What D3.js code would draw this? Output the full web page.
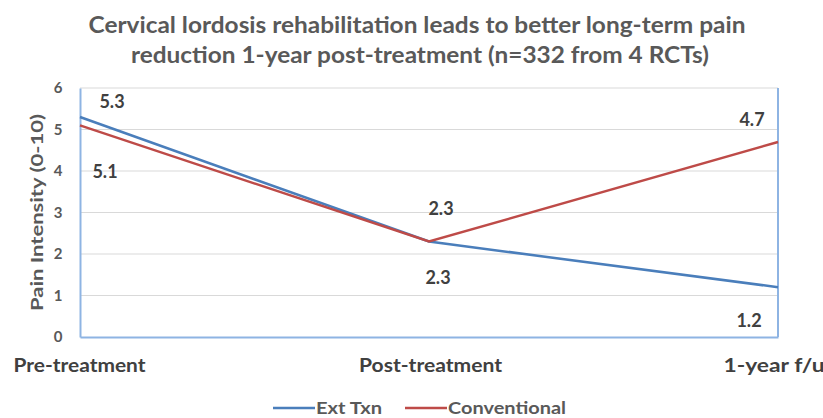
<!DOCTYPE html>
<html><head><meta charset="utf-8">
<script src="https://cdn.jsdelivr.net/npm/d3@7"></script>
<style>body{margin:0;background:#fff}svg{display:block}text{font-family:Lato,"Open Sans",sans-serif}</style>
</head><body><svg id="c" width="823" height="418"></svg>
<script>
const categories = ["Pre-treatment", "Post-treatment", "1-year f/u"];
const extTxn = [5.3, 2.3, 1.2];
const conventional = [5.1, 2.3, 4.7];
const seriesNames = ["Ext Txn", "Conventional"];
const yTicks = [0, 1, 2, 3, 4, 5, 6];
const titleLines = ["Cervical lordosis rehabilitation leads to better long-term pain", "reduction 1-year post-treatment (n=332 from 4 RCTs)"];

const colors = ["#4a7ebb", "#be4b48"];
const svg = d3.select("#c");
const m = {l: 80, r: 778, t: 88, b: 337};
const x = d3.scalePoint().domain(categories).range([m.l, m.r]).padding(0);
const y = d3.scaleLinear().domain([0, 6]).range([m.b, m.t]);

// title
const titleLen = [657, 578];
const titleX = [417, 420];
svg.append("g").selectAll("text").data(titleLines).join("text")
  .attr("x", (d, i) => titleX[i]).attr("y", (d, i) => 33 + i * 30)
  .attr("text-anchor", "middle").attr("font-size", 22).attr("font-weight", "bold")
  .attr("textLength", (d, i) => titleLen[i]).attr("lengthAdjust", "spacingAndGlyphs")
  .attr("fill", "#595959").text(d => d);

// gridlines
svg.append("g").selectAll("line").data(yTicks.filter(t => t > 0)).join("line")
  .attr("x1", m.l).attr("x2", m.r).attr("y1", d => y(d)).attr("y2", d => y(d))
  .attr("stroke", "#d9d9d9").attr("stroke-width", 1.2);

// axes box
const yAxis = d3.axisLeft(y).tickValues(yTicks).tickFormat(d3.format("d")).tickSize(0).tickPadding(18);
const ga = svg.append("g").attr("transform", `translate(${m.l},0)`).call(yAxis);
ga.select(".domain").attr("stroke", "#8eb4e3").attr("stroke-width", 2);
ga.selectAll("text").attr("font-size", 15).attr("font-weight", "bold").attr("fill", "#595959")
  .attr("text-anchor", "middle").attr("dx", -4).style("font-family", "Lato");

const xAxis = d3.axisBottom(x).tickSize(0).tickPadding(22);
const gx = svg.append("g").attr("transform", `translate(0,${m.b})`).call(xAxis);
gx.select(".domain").attr("stroke", "#8eb4e3").attr("stroke-width", 2);
const xLen = [132, 143, 101];
gx.selectAll("text").attr("font-size", 18).attr("font-weight", "bold").attr("fill", "#404040").style("font-family", "Lato")
  .attr("textLength", (d, i) => xLen[i]).attr("lengthAdjust", "spacingAndGlyphs")
  .attr("text-anchor", (d, i) => i === 0 ? "start" : (i === 2 ? "end" : "middle"))
  .attr("dx", (d, i) => i === 0 ? -67 : (i === 2 ? 46 : 1));

svg.append("line").attr("x1", m.r).attr("x2", m.r).attr("y1", m.t).attr("y2", m.b)
  .attr("stroke", "#8eb4e3").attr("stroke-width", 2);

// y title
svg.append("text").attr("transform", `translate(36,${(m.t + m.b) / 2}) rotate(-90)`)
  .attr("text-anchor", "middle").attr("dominant-baseline", "central").attr("font-size", 17).attr("font-weight", "bold")
  .attr("textLength", 197).attr("lengthAdjust", "spacingAndGlyphs")
  .attr("fill", "#595959").text("Pain Intensity (0-10)");

// lines
const data = [extTxn, conventional];
const line = d3.line().x((d, i) => x(categories[i])).y(d => y(d));
svg.append("g").selectAll("path").data(data).join("path")
  .attr("d", line).attr("fill", "none").attr("stroke", (d, i) => colors[i]).attr("stroke-width", 2.5);

// labels
const labelOff = [[[32, -16], [12, -34], [-29, 33]], [[25, 46], [9, 35], [-26, -23]]];
data.forEach((s, si) => {
  svg.append("g").selectAll("text").data(s).join("text")
    .attr("x", (d, i) => x(categories[i]) + labelOff[si][i][0])
    .attr("y", (d, i) => y(d) + labelOff[si][i][1])
    .attr("text-anchor", "middle").attr("dominant-baseline", "central")
    .attr("font-size", 18).attr("font-weight", "bold")
    .attr("fill", "#404040").text(d => d.toFixed(1));
});

// legend
const lg = svg.append("g");
const lx = [273, 405];
const legLen = [66, 118];
seriesNames.forEach((n, i) => {
  lg.append("line").attr("x1", lx[i]).attr("x2", lx[i] + 42).attr("y1", 408).attr("y2", 408)
    .attr("stroke", colors[i]).attr("stroke-width", 2.5);
  lg.append("text").attr("x", lx[i] + 43).attr("y", 414).attr("font-size", 17).attr("font-weight", "bold")
    .attr("textLength", legLen[i]).attr("lengthAdjust", "spacingAndGlyphs")
    .attr("fill", "#595959").text(n);
});
</script></body></html>
